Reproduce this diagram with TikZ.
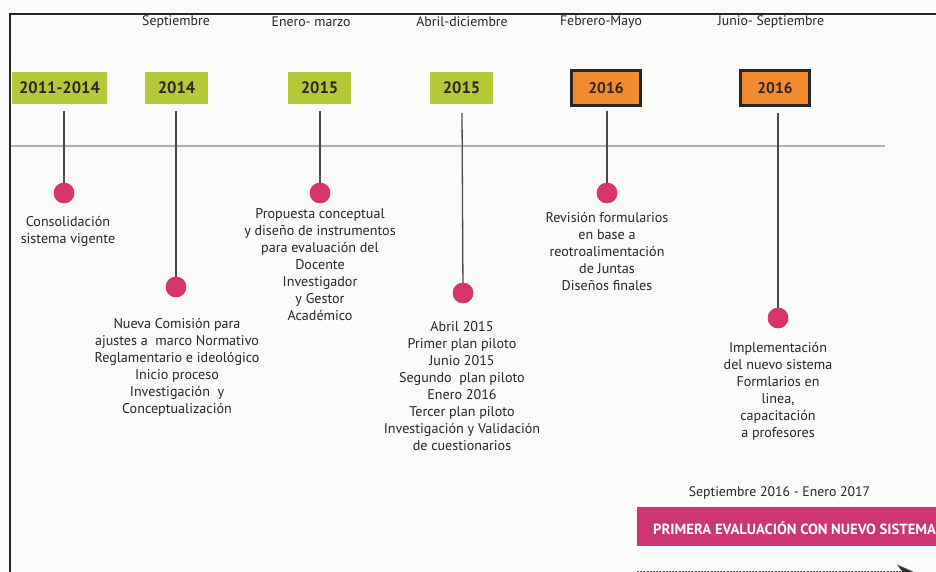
\documentclass[tikz,border=0pt]{standalone}
\usepackage{fontspec}
\setmainfont{PT Sans}
\usetikzlibrary{arrows.meta}
\definecolor{bg}{HTML}{FAFAF8}
\definecolor{lime}{HTML}{B5C838}
\definecolor{orng}{HTML}{F28A30}
\definecolor{mag}{HTML}{D6336F}
\definecolor{barmag}{HTML}{CE3673}
\definecolor{txt}{HTML}{262626}
\definecolor{stemc}{HTML}{4A4A4A}
\definecolor{axisc}{HTML}{A9B2BA}
\tikzset{
  yearbox/.style={fill=lime, minimum width=63, minimum height=32, inner sep=0,
    font=\fontsize{16.5}{18}\selectfont\bfseries, text=txt},
  orangebox/.style={fill=orng, draw=txt, line width=2.6pt, minimum width=69, minimum height=35,
    inner sep=0, font=\fontsize{15.5}{18}\selectfont\bfseries, text=txt},
  evdot/.style={circle, fill=mag, minimum size=20.5, inner sep=0},
  desc/.style={align=center, font=\fontsize{14.1}{17}\selectfont, inner sep=0, anchor=north, text=txt},
  datelbl/.style={font=\fontsize{13.8}{15}\selectfont, inner sep=0, text=txt},
  stem/.style={draw=stemc, line width=1.3pt},
}
\begin{document}
\begin{tikzpicture}[x=1pt,y=-1pt]
\useasboundingbox[fill=bg] (0,0) rectangle (936,572);
% frame
\coordinate (fl) at (10,14);
\coordinate (fr) at (936,14);
\coordinate (fb) at (10,572);
\draw[line width=2.6pt, draw=txt] (fr) -- (fl) -- (fb);
% axis line
\coordinate (al) at (11,146);
\coordinate (ar) at (885,146);
\draw[draw=axisc, line width=1.2pt] (al) -- (ar);
% dates
\node[datelbl] (m2) at (176,22) {Septiembre};
\node[datelbl] (m3) at (311,22) {Enero- marzo};
\node[datelbl] (m4) at (462,22) {Abril-diciembre};
\node[datelbl] (m5) at (601,22) {Febrero-Mayo};
\node[datelbl] (m6) at (771,22) {Junio- Septiembre};
% year boxes
\node[yearbox, minimum width=95] (b1) at (59.5,88) {2011-2014};
\node[yearbox] (b2) at (176.5,88) {2014};
\node[yearbox] (b3) at (319.5,88) {2015};
\node[yearbox] (b4) at (461.5,88) {2015};
\node[orangebox] (b5) at (606,88) {2016};
\node[orangebox] (b6) at (775,88) {2016};
% stems tops
\coordinate (t1) at (64,111);
\coordinate (t2) at (176,111);
\coordinate (t3) at (320,111);
\coordinate (t4) at (462,113);
\coordinate (t5) at (607,111);
\coordinate (t6) at (778,113);
% dots
\node[evdot] (d1) at (64,193) {};
\node[evdot] (d2) at (176,287) {};
\node[evdot] (d3) at (320,193) {};
\node[evdot] (d4) at (463,293) {};
\node[evdot] (d5) at (607,193) {};
\node[evdot] (d6) at (778,318) {};
\foreach \i in {1,...,6} { \draw[stem] (t\i) -- (d\i.center); }
\foreach \i in {1,...,6} { \node[evdot] at (d\i) {}; }
% descriptions
\node[desc] (e1) at (68,216) {Consolidación\\sistema vigente};
\node[desc] (e2) at (177,318) {Nueva Comisión para\\ajustes a\ \ marco Normativo\\Reglamentario e ideológico\\Inicio proceso\\Investigación\ \ y\\Conceptualización};
\node[desc] (e3) at (320,208) {Propuesta conceptual\\y diseño de instrumentos\\para evaluación del\\Docente\\Investigador\\y Gestor\\Académico};
\node[desc] (e4) at (462,321) {Abril 2015\\Primer plan piloto\\Junio 2015\\Segundo\ \ plan piloto\\Enero 2016\\Tercer plan piloto\\Investigación y Validación\\de cuestionarios};
\node[desc] (e5) at (607,212) {Revisión formularios\\en base a\\reotroalimentación\\de Juntas\\Diseños finales};
\node[desc] (e6) at (778,342) {Implementación\\del nuevo sistema\\Formlarios en\\linea,\\capacitación\\a profesores};
% bottom
\node[datelbl] (sd) at (779.5,493) {Septiembre 2016 - Enero 2017};
\node[fill=barmag, minimum width=320, minimum height=39, inner sep=0, anchor=west] (bar) at (637,526.5) {};
\node[anchor=west, inner sep=0, text=white, font=\fontsize{14.7}{16}\selectfont\bfseries] (bt) at (653,528) {PRIMERA EVALUACIÓN CON NUEVO SISTEMA};
\coordinate (ds) at (637,571.5);
\coordinate (de) at (913,571.5);
\draw[dashed, line width=0.9pt, dash pattern=on 2pt off 1.2pt, draw=stemc, -{Stealth[length=16pt,width=14pt,fill=txt]}] (ds) -- (de);
\end{tikzpicture}
\end{document}
